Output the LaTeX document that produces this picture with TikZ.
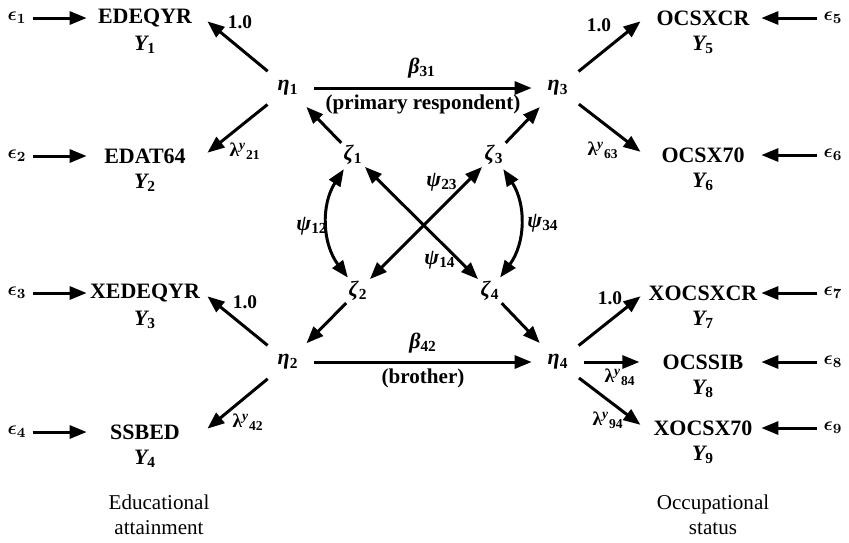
\documentclass[tikz,border=0pt]{standalone}
\usepackage{fontspec}
\setmainfont{Liberation Serif}
\usetikzlibrary{arrows.meta,positioning}

\newcommand{\lv}[2]{\textit{#1}\textsubscript{\upshape #2}}
\newcommand{\lam}[1]{λ\textsuperscript{\textit{y}}\textsubscript{#1}}

\begin{document}
\begin{tikzpicture}[
    >={Triangle[length=3.4mm,width=2.6mm]},
    every node/.style={font=\fontsize{12.5}{15}\selectfont\bfseries},
    obsbox/.style={minimum width=2.32cm, inner sep=1pt},
    ylab/.style={font=\fontsize{12.5}{15}\selectfont\bfseries\itshape},
    errnode/.style={font=\fontsize{11}{13}\selectfont\boldmath},
    etanode/.style={circle, inner sep=0pt, minimum size=1.04cm},
    zetanode/.style={circle, inner sep=0pt, minimum size=0.66cm},
    coef/.style={font=\fontsize{11}{13}\selectfont\bfseries},
    pathlab/.style={font=\fontsize{12}{14}\selectfont\bfseries},
    caption/.style={font=\fontsize{12}{14}\selectfont},
    arrow/.style={->, line width=1.7pt},
    loadarrow/.style={arrow, shorten >=3pt},
    dblarrow/.style={<->, line width=1.7pt}
]
\useasboundingbox (0,0) rectangle (16.98,-10.84);

% --- OBSERVED (left) ---
\node[obsbox] (edeqyr) at (2.9,-0.36) {EDEQYR};
\node[ylab] (y1) at (2.9,-0.9) {\lv{Y}{1}};
\node[obsbox] (edat) at (2.9,-3.12) {EDAT64};
\node[ylab] (y2) at (2.9,-3.66) {\lv{Y}{2}};
\node[obsbox] (xedeqyr) at (2.9,-5.86) {XEDEQYR};
\node[ylab] (y3) at (2.9,-6.4) {\lv{Y}{3}};
\node[obsbox] (ssbed) at (2.9,-8.64) {SSBED};
\node[ylab] (y4) at (2.9,-9.18) {\lv{Y}{4}};

% --- OBSERVED (right) ---
\node[obsbox] (ocsxcr) at (14.06,-0.36) {OCSXCR};
\node[ylab] (y5) at (14.06,-0.9) {\lv{Y}{5}};
\node[obsbox] (ocsx) at (14.06,-3.1) {OCSX70};
\node[ylab] (y6) at (14.06,-3.64) {\lv{Y}{6}};
\node[obsbox] (xocsxcr) at (14.06,-5.86) {XOCSXCR};
\node[ylab] (y7) at (14.06,-6.4) {\lv{Y}{7}};
\node[obsbox] (ocssib) at (14.06,-7.24) {OCSSIB};
\node[ylab] (y8) at (14.06,-7.78) {\lv{Y}{8}};
\node[obsbox] (xocsx) at (14.06,-8.56) {XOCSX70};
\node[ylab] (y9) at (14.06,-9.1) {\lv{Y}{9}};

% --- ERRORS ---
\node[errnode] (eps1) at (0.34,-0.36) {$\epsilon_1$};
\node[errnode] (eps2) at (0.34,-3.12) {$\epsilon_2$};
\node[errnode] (eps3) at (0.34,-5.86) {$\epsilon_3$};
\node[errnode] (eps4) at (0.34,-8.64) {$\epsilon_4$};
\node[errnode] (eps5) at (16.66,-0.36) {$\epsilon_5$};
\node[errnode] (eps6) at (16.66,-3.1) {$\epsilon_6$};
\node[errnode] (eps7) at (16.66,-5.86) {$\epsilon_7$};
\node[errnode] (eps8) at (16.66,-7.24) {$\epsilon_8$};
\node[errnode] (eps9) at (16.66,-8.56) {$\epsilon_9$};

% --- LATENT ---
\node[etanode] (eta1) at (5.76,-1.76) {\lv{η}{1}};
\node[etanode] (eta3) at (11.16,-1.76) {\lv{η}{3}};
\node[etanode] (eta2) at (5.76,-7.24) {\lv{η}{2}};
\node[etanode] (eta4) at (11.16,-7.24) {\lv{η}{4}};

\node[zetanode] (zeta1) at (7.06,-3.1) {\lv{ζ}{1}};
\node[zetanode] (zeta3) at (9.88,-3.1) {\lv{ζ}{3}};
\node[zetanode] (zeta2) at (7.16,-5.82) {\lv{ζ}{2}};
\node[zetanode] (zeta4) at (9.8,-5.82) {\lv{ζ}{4}};

% --- COEFFICIENT LABELS ---
\node[coef] (l11) at (4.8,-0.44) {1.0};
\node[coef] (l21) at (4.9,-3.02) {\lam{21}};
\node[coef] (l32) at (4.9,-6.04) {1.0};
\node[coef] (l42) at (4.96,-8.44) {\lam{42}};
\node[coef] (l53) at (11.98,-0.5) {1.0};
\node[coef] (l63) at (12.06,-3.0) {\lam{63}};
\node[coef] (l74) at (12.2,-5.96) {1.0};
\node[coef] (l84) at (12.4,-7.54) {\lam{84}};
\node[coef] (l94) at (12.16,-8.4) {\lam{94}};

\node (b31) at (8.44,-1.36) {\lv{β}{31}};
\node[pathlab] (resp) at (8.46,-2.08) {(primary respondent)};
\node (b42) at (8.46,-6.86) {\lv{β}{42}};
\node[pathlab] (bro) at (8.46,-7.56) {(brother)};

\node (p12) at (6.24,-4.52) {\lv{ψ}{12}};
\node (p34) at (10.86,-4.46) {\lv{ψ}{34}};
\node (p23) at (8.84,-3.64) {\lv{ψ}{23}};
\node (p14) at (8.8,-5.2) {\lv{ψ}{14}};

% --- CAPTIONS ---
\node[caption, align=center] (edu) at (3.18,-10.3) {Educational\\attainment};
\node[caption, align=center] (occ) at (14.26,-10.3) {Occupational\\status};

% --- CONNECTIONS ---
\draw[arrow] (eps1) -- (edeqyr);
\draw[arrow] (eps2) -- (edat);
\draw[arrow] (eps3) -- (xedeqyr);
\draw[arrow] (eps4) -- (ssbed);
\draw[arrow] (eps5) -- (ocsxcr);
\draw[arrow] (eps6) -- (ocsx);
\draw[arrow] (eps7) -- (xocsxcr);
\draw[arrow] (eps8) -- (ocssib);
\draw[arrow] (eps9) -- (xocsx);

\draw[loadarrow] (eta1) -- (edeqyr.east);
\draw[loadarrow] (eta1) -- (edat.east);
\draw[loadarrow] (eta2) -- (xedeqyr.east);
\draw[loadarrow] (eta2) -- (ssbed.east);
\draw[loadarrow] (eta3) -- (ocsxcr.west);
\draw[loadarrow] (eta3) -- (ocsx.west);
\draw[loadarrow] (eta4) -- (xocsxcr.west);
\draw[loadarrow] (eta4) -- (ocssib.west);
\draw[loadarrow] (eta4) -- (xocsx.west);

\draw[arrow] (eta1) -- (eta3);
\draw[arrow] (eta2) -- (eta4);

\draw[arrow] (zeta1) -- (eta1);
\draw[arrow] (zeta3) -- (eta3);
\draw[arrow] (zeta2) -- (eta2);
\draw[arrow] (zeta4) -- (eta4);

% covariances
\draw[dblarrow] (zeta1) to[bend right=35] (zeta2);
\draw[dblarrow] (zeta3) to[bend left=35] (zeta4);
\draw[dblarrow] (zeta1) -- (zeta4);
\draw[dblarrow] (zeta3) -- (zeta2);

\end{tikzpicture}
\end{document}
